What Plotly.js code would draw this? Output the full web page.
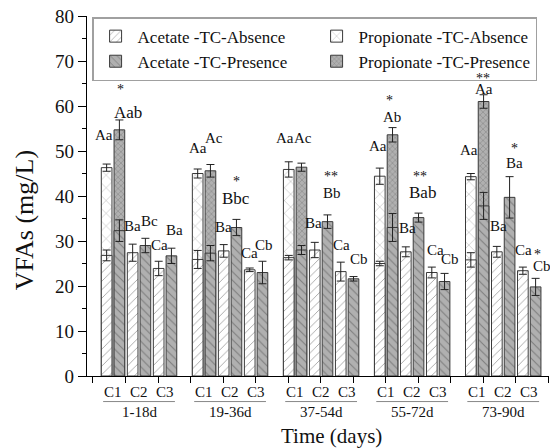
<!DOCTYPE html>
<html><head><meta charset="utf-8">
<script src="https://cdn.plot.ly/plotly-3.0.1.min.js"></script>
<style>html,body{margin:0;padding:0;background:#fff}#chart{width:550px;height:448px}</style>
</head><body><div id="chart"></div>
<script>
// ---- data ----
const periods = ['1-18d', '19-36d', '37-54d', '55-72d', '73-90d'];
const conditions = ['C1', 'C2', 'C3'];

// acetate, ordered period by period: C1, C2, C3
const acetateAbsence     = [26.8, 27.4, 23.9,  25.9, 27.8, 23.6,  26.3, 28.0, 23.2,  25.0, 27.6, 23.0,  25.8, 27.6, 23.4];
const acetateAbsenceErr  = [1.2, 1.9, 1.6,  2.0, 1.4, 0.4,  0.5, 1.7, 2.1,  0.5, 1.1, 1.2,  1.6, 1.2, 0.8];
const acetatePresence    = [32.3, 29.0, 26.7,  27.3, 33.0, 23.0,  28.0, 34.3, 21.6,  33.0, 35.2, 21.0,  37.8, 39.7, 19.8];
const acetatePresenceErr = [2.4, 1.6, 1.7,  1.7, 1.8, 2.5,  1.0, 1.5, 0.5,  3.1, 1.0, 1.8,  3.0, 4.6, 1.9];

// propionate, C1 only, one per period
const propionateAbsence     = [46.3, 45.0, 45.9, 44.4, 44.3];
const propionateAbsenceErr  = [0.8, 1.0, 1.7, 1.8, 0.7];
const propionatePresence    = [54.7, 45.6, 46.4, 53.6, 61.0];
const propionatePresenceErr = [2.2, 1.4, 0.9, 1.6, 1.5];

// significance letters: [text, period, condition-offset, y]
const sigLabels = [
  ['Aa', 0, -0.36, 53.6], ['*', 0, 0.30, 64.5], ['Aab', 0, 0.56, 58.6], ['Ba', 0, 0.76, 33.3],
  ['Bc', 0, 1.42, 34.5], ['Ca', 0, 1.80, 29.1], ['Ba', 0, 2.38, 32.4],
  ['Aa', 1, -0.23, 50.6], ['Ac', 1, 0.37, 52.8], ['Ba', 1, 0.76, 33.2], ['*', 1, 1.25, 44.2],
  ['Bbc', 1, 1.21, 39.5], ['Ca', 1, 1.76, 27.3], ['Cb', 1, 2.30, 29.1],
  ['Aa', 2, -0.37, 53.0], ['Ac', 2, 0.32, 53.0], ['Ba', 2, 0.72, 33.9], ['**', 2, 1.37, 45.2],
  ['Bb', 2, 1.40, 40.7], ['Ca', 2, 1.78, 29.1], ['Cb', 2, 2.45, 25.9],
  ['Aa', 3, -0.31, 51.1], ['*', 3, 0.14, 62.2], ['Ab', 3, 0.22, 57.6], ['Ba', 3, 0.82, 33.0],
  ['**', 3, 1.30, 45.3], ['Bab', 3, 1.39, 40.7], ['Ca', 3, 1.90, 28.1], ['Cb', 3, 2.45, 26.1],
  ['**', 4, 0.23, 67.0], ['Aa', 4, 0.26, 63.8], ['Aa', 4, -0.32, 50.2], ['Ba', 4, 0.81, 33.3],
  ['*', 4, 1.45, 51.5], ['Ba', 4, 1.45, 47.3], ['Ca', 4, 1.79, 28.0], ['*', 4, 2.33, 28.0], ['Cb', 4, 2.49, 24.5]
];

// ---- layout helpers ----
const PERIOD_STEP = 3.5;
const xs = [];
periods.forEach((p, i) => conditions.forEach((c, j) => xs.push(i * PERIOD_STEP + j)));
const c1x = periods.map((p, i) => i * PERIOD_STEP);

const FONT = 'Liberation Serif';
const BW = 0.41, OFF_A = -0.45, OFF_P = 0.04;
const WHITE = '#ffffff', GRAY = '#b0b0b0', LINE = '#3a3a3a';

function err(arr) { return {type: 'data', array: arr, visible: true, color: '#222', thickness: 1, width: 4}; }
function bar(name, x, y, e, offset, bg, shape, size, sol, rank) {
  return {
    type: 'bar', name: name, x: x, y: y, offset: offset, width: BW, legendrank: rank,
    marker: {color: bg, line: {color: LINE, width: 1},
             pattern: {shape: shape, size: size, solidity: sol, fgcolor: '#4a4a4a', fillmode: 'overlay'}},
    error_y: err(e), hoverinfo: 'y'
  };
}

const traces = [
  bar('Propionate -TC-Absence', c1x, propionateAbsence, propionateAbsenceErr, OFF_A, WHITE, 'x', 9, 0.1, 2),
  bar('Propionate -TC-Presence', c1x, propionatePresence, propionatePresenceErr, OFF_P, GRAY, 'x', 4, 0.22, 4),
  bar('Acetate -TC-Absence', xs, acetateAbsence, acetateAbsenceErr, OFF_A, WHITE, '/', 6, 0.15, 1),
  bar('Acetate -TC-Presence', xs, acetatePresence, acetatePresenceErr, OFF_P, GRAY, '\\', 6, 0.18, 3)
];

const annotations = [];
const shapes = [];
sigLabels.forEach(([t, p, dx, y]) => {
  const star = t.indexOf('*') === 0;
  annotations.push({
    x: p * PERIOD_STEP + dx, y: y, xref: 'x', yref: 'y', text: t, showarrow: false,
    xanchor: 'center', yanchor: 'middle',
    yshift: star ? -4 : 0,
    font: {family: FONT, size: star ? 14 : (t.length === 3 ? 17 : 15), color: '#111'}
  });
});
xs.forEach((x, k) => {
  annotations.push({x: x, y: -0.044, xref: 'x', yref: 'paper', text: conditions[k % 3], showarrow: false,
    xanchor: 'center', yanchor: 'middle', font: {family: FONT, size: 15, color: '#111'}});
});
periods.forEach((p, i) => {
  const mid = i * PERIOD_STEP + 1;
  annotations.push({x: mid, y: -0.099, xref: 'x', yref: 'paper', text: p, showarrow: false,
    xanchor: 'center', yanchor: 'middle', font: {family: FONT, size: 15, color: '#111'}});
  shapes.push({type: 'line', xref: 'x', yref: 'paper', x0: mid - 1.38, x1: mid + 1.38, y0: -0.071, y1: -0.071,
    line: {color: '#888', width: 1}});
});
annotations.push({x: 0.53, y: -0.168, xref: 'paper', yref: 'paper', text: 'Time (days)', showarrow: false,
  xanchor: 'center', yanchor: 'middle', font: {family: FONT, size: 21, color: '#111'}});
annotations.push({x: -0.136, y: 0.433, xref: 'paper', yref: 'paper', text: 'VFAs (mg/L)', showarrow: false,
  xanchor: 'center', yanchor: 'middle', textangle: -90, font: {family: FONT, size: 26, color: '#111'}});

const xticks = [];
for (let k = 0; k < 15; k++) xticks.push(-0.77 + 1.25 * k);

const layout = {
  width: 550, height: 448,
  margin: {l: 87, r: 1, t: 16, b: 72},
  paper_bgcolor: '#fff', plot_bgcolor: '#fff',
  barmode: 'overlay',
  showlegend: true,
  legend: {
    orientation: 'h', x: 0.011, y: 0.997, xanchor: 'left', yanchor: 'top',
    entrywidth: 172, entrywidthmode: 'pixels', itemwidth: 34,
    bordercolor: '#a0a0a0', borderwidth: 1.5, bgcolor: 'rgba(255,255,255,0)',
    font: {family: FONT, size: 17, color: '#111'}, tracegroupgap: 0
  },
  xaxis: {
    range: [-1, 16.76], tickvals: xticks, showticklabels: false, ticks: 'outside', ticklen: 6,
    tickcolor: '#000', showline: true, linecolor: '#000', linewidth: 1.3, showgrid: false, zeroline: false
  },
  yaxis: {
    range: [0, 80], dtick: 10, ticks: 'outside', ticklen: 8, tickcolor: '#000',
    minor: {dtick: 5, ticks: 'outside', ticklen: 4, tickcolor: '#000'},
    showline: true, linecolor: '#000', linewidth: 1.3, showgrid: false, zeroline: false,
    tickfont: {family: FONT, size: 19, color: '#111'}
  },
  annotations: annotations,
  shapes: shapes
};

Plotly.newPlot('chart', traces, layout, {staticPlot: true, displayModeBar: false});
</script>
</body></html>
